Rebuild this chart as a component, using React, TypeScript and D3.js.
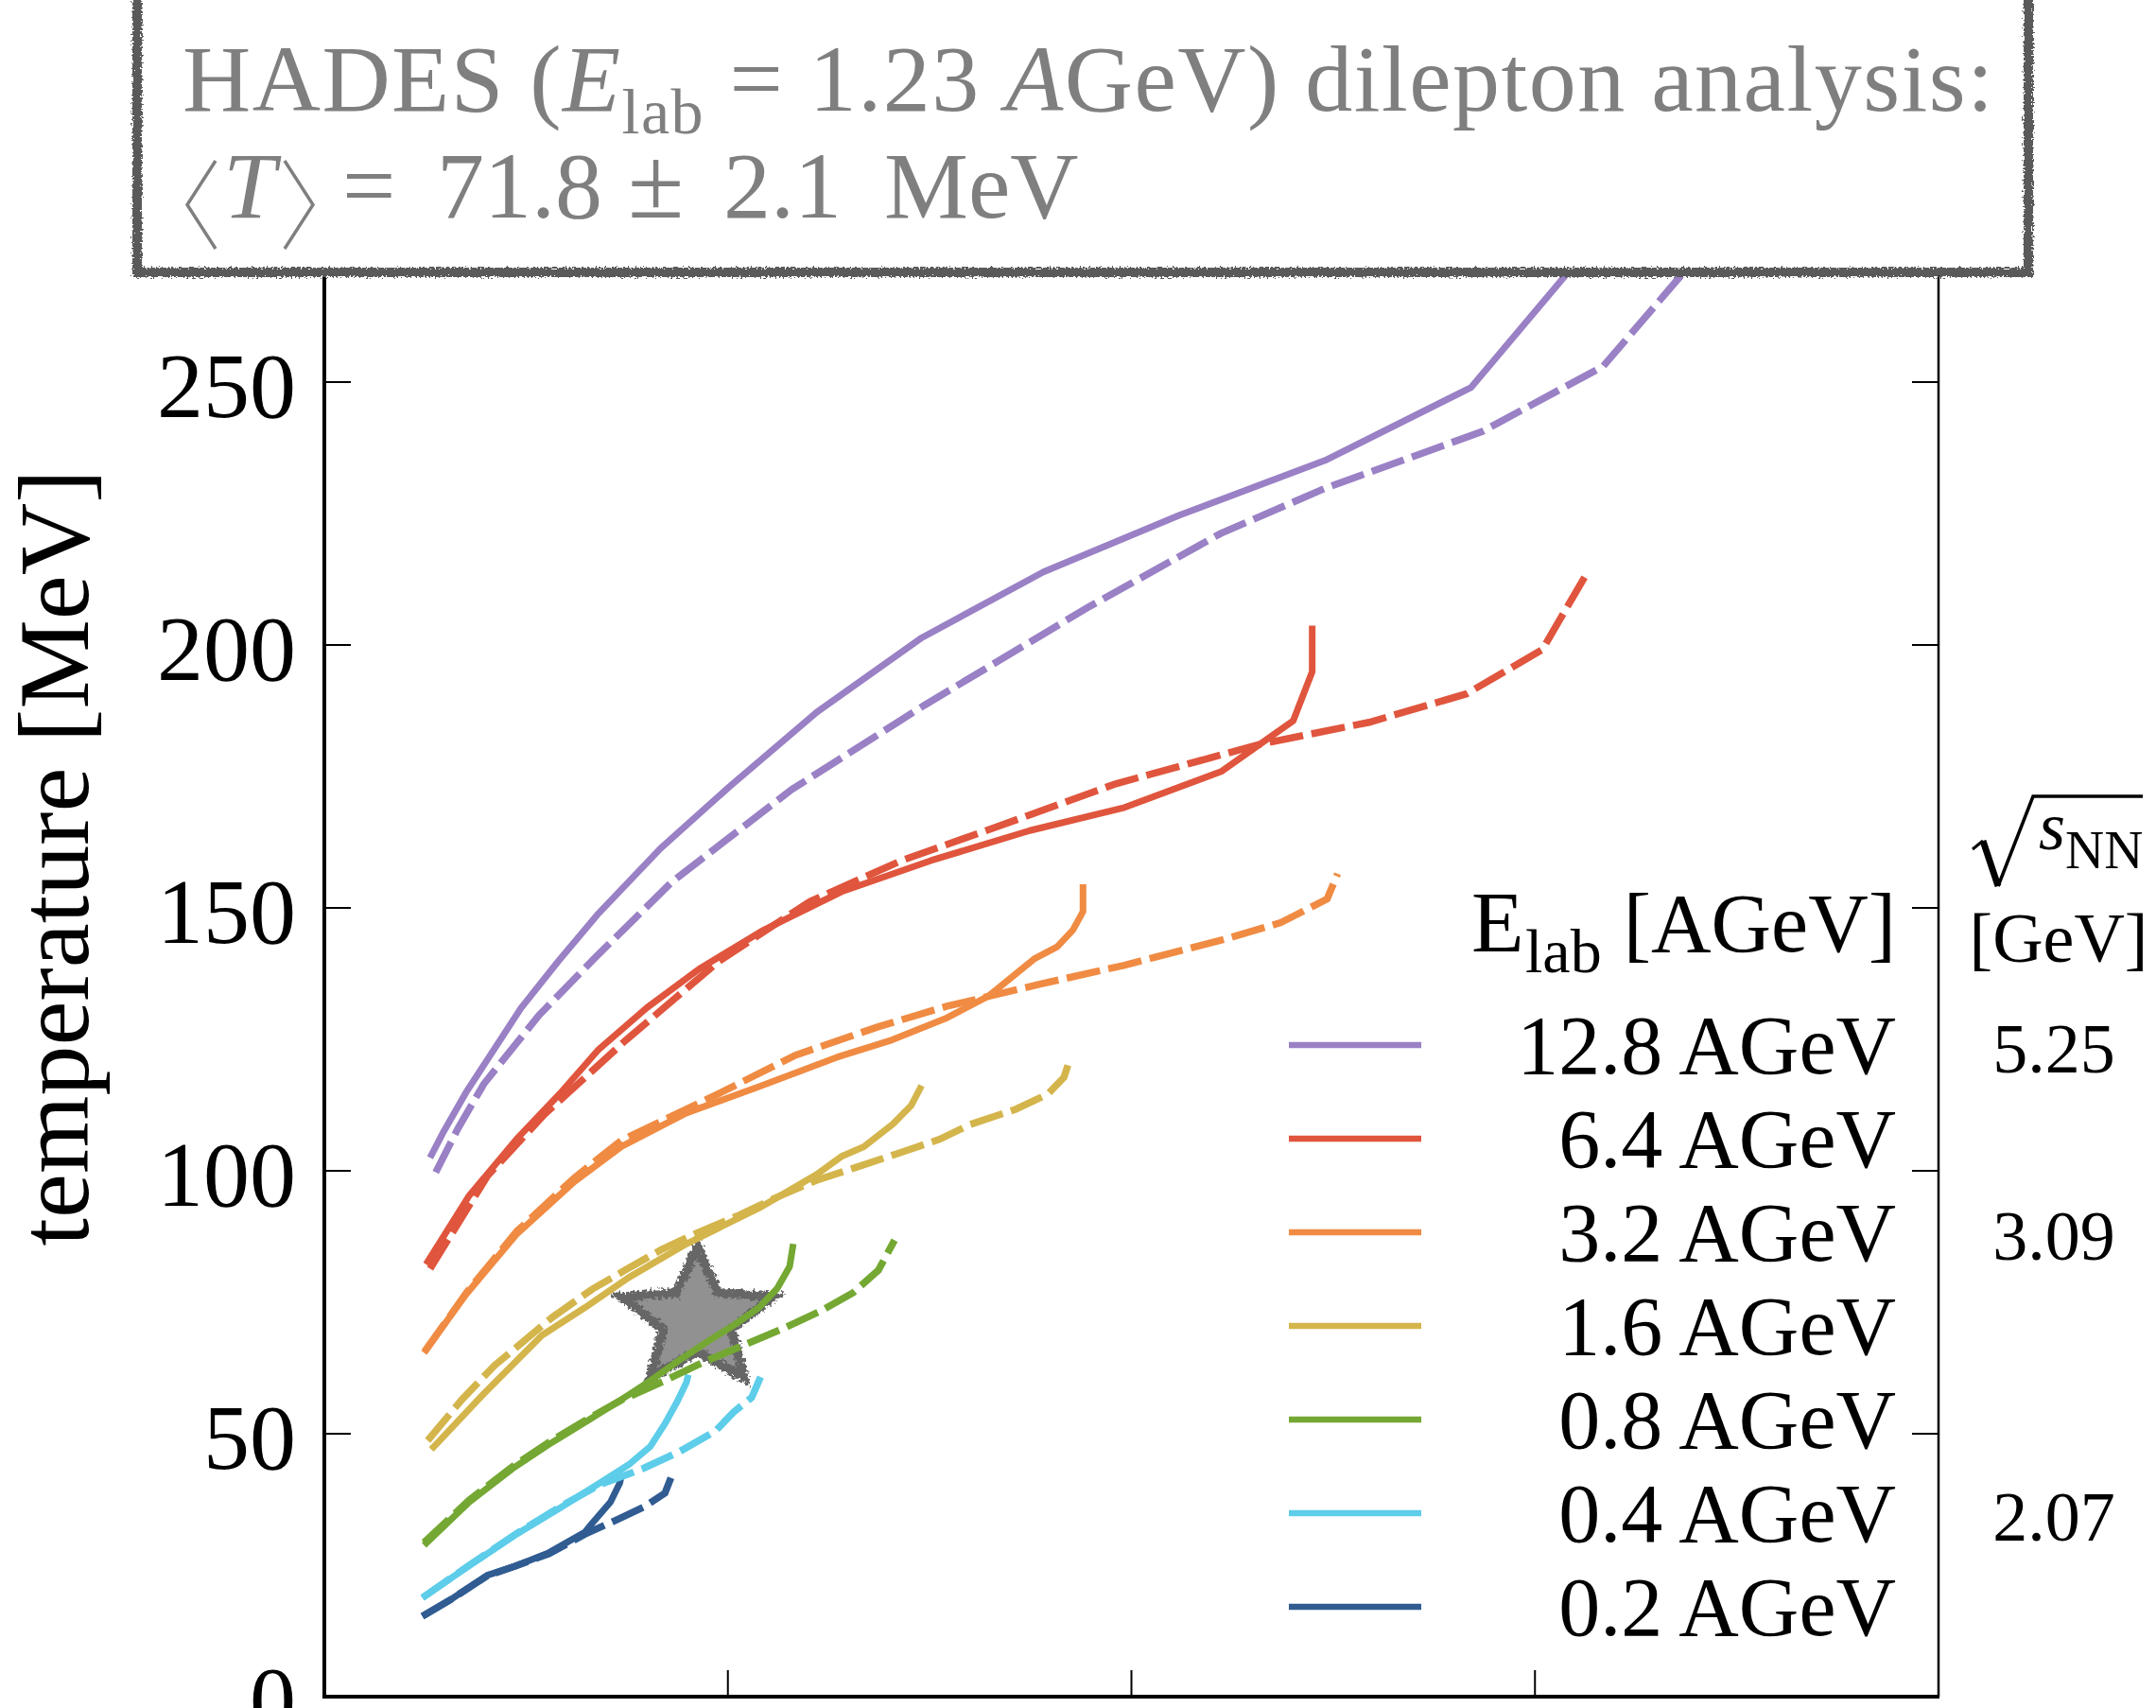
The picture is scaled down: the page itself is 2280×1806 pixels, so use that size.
import React from 'react';
import * as d3 from 'd3';

type P = [number, number];

// ---------- data (x: abscissa units, ticks 0..4 ; y: temperature in MeV) ----------
const xTicks = [1, 2, 3];
const yTicks = [0, 50, 100, 150, 200, 250];

const energyLabels = ['12.8 AGeV', '6.4 AGeV', '3.2 AGeV', '1.6 AGeV', '0.8 AGeV', '0.4 AGeV', '0.2 AGeV'];
const sqrtSNN = ['5.25', '', '3.09', '', '', '2.07', ''];
const colors = ['#9A80C5', '#E0553D', '#F08B43', '#D4B54C', '#74A833', '#5DCDE9', '#305C92'];

const solid128: P[] = [[0.262, 102.5], [0.293, 107.1], [0.351, 114.9], [0.487, 130.9], [0.579, 139.8], [0.680, 149.0], [0.833, 161.3], [1.003, 173.0], [1.220, 187.2], [1.481, 201.4], [1.782, 213.9], [2.119, 224.7], [2.480, 235.1], [2.842, 249.0], [3.077, 270.4], [3.366, 296.9]];
const dashed128: P[] = [[0.276, 99.7], [0.330, 107.9], [0.395, 116.5], [0.532, 129.6], [0.668, 140.3], [0.862, 155.0], [1.158, 172.5], [1.486, 188.5], [1.891, 207.1], [2.221, 221.2], [2.480, 229.8], [2.869, 240.6], [3.169, 253.0], [3.349, 269.1], [3.659, 296.9]];

const solid64: P[] = [[0.252, 82.2], [0.359, 95.3], [0.476, 106.0], [0.584, 114.7], [0.680, 123.1], [0.799, 131.0], [0.929, 138.4], [1.089, 145.8], [1.282, 153.1], [1.503, 159.0], [1.748, 164.7], [1.983, 169.1], [2.224, 176.0], [2.401, 185.6], [2.448, 194.9], [2.448, 203.7]];
const dashed64: P[] = [[0.262, 81.4], [0.404, 99.0], [0.545, 110.7], [0.748, 124.9], [0.975, 139.7], [1.203, 151.2], [1.430, 159.0], [1.713, 166.7], [1.961, 173.6], [2.317, 181.1], [2.589, 185.3], [2.830, 190.7], [3.018, 199.1], [3.123, 212.9]];

const solid32: P[] = [[0.247, 65.4], [0.350, 76.4], [0.476, 87.9], [0.619, 97.9], [0.736, 104.6], [0.897, 111.0], [1.077, 116.0], [1.270, 121.6], [1.407, 124.9], [1.543, 129.1], [1.645, 133.2], [1.759, 140.3], [1.816, 142.6], [1.855, 145.8], [1.880, 149.3], [1.880, 154.5]];
const dashed32: P[] = [[0.249, 65.7], [0.354, 77.0], [0.477, 88.5], [0.620, 98.7], [0.736, 105.8], [0.975, 114.6], [1.168, 122.0], [1.373, 127.4], [1.543, 131.3], [1.773, 135.5], [1.983, 139.1], [2.224, 143.9], [2.370, 147.2], [2.485, 151.7], [2.511, 156.5]];

const solid16: P[] = [[0.265, 47.0], [0.395, 57.6], [0.539, 68.7], [0.646, 74.0], [0.754, 79.7], [0.897, 86.1], [1.077, 92.9], [1.220, 99.3], [1.283, 102.8], [1.337, 104.6], [1.409, 108.9], [1.454, 112.4], [1.480, 116.2]];
const dashed16: P[] = [[0.256, 48.7], [0.341, 56.5], [0.422, 63.0], [0.494, 67.6], [0.566, 72.2], [0.664, 77.5], [0.745, 81.1], [0.835, 85.0], [0.924, 88.2], [1.023, 91.4], [1.122, 95.0], [1.220, 98.2], [1.319, 100.7], [1.417, 103.2], [1.525, 106.0], [1.600, 108.8], [1.713, 111.7], [1.793, 114.6], [1.833, 117.8], [1.844, 120.4]];

const solid08: P[] = [[0.247, 28.8], [0.359, 37.0], [0.467, 43.4], [0.557, 48.0], [0.655, 52.6], [0.736, 56.5], [0.808, 60.1], [0.880, 64.0], [0.951, 67.6], [1.014, 70.6], [1.077, 74.0], [1.122, 77.6], [1.153, 81.8], [1.162, 86.1]];
const dashed08: P[] = [[0.247, 29.3], [0.359, 37.4], [0.467, 43.8], [0.557, 48.4], [0.655, 52.9], [0.736, 56.4], [0.844, 60.1], [0.942, 63.7], [1.041, 66.9], [1.140, 70.1], [1.229, 73.3], [1.310, 76.8], [1.373, 81.1], [1.413, 86.8]];

const solid04: P[] = [[0.243, 18.8], [0.359, 24.9], [0.476, 30.9], [0.584, 35.9], [0.682, 40.6], [0.754, 44.1], [0.808, 47.6], [0.844, 51.9], [0.875, 56.2], [0.897, 59.7], [0.902, 61.2]];
const dashed04: P[] = [[0.243, 18.8], [0.359, 25.0], [0.476, 31.0], [0.584, 36.1], [0.682, 40.3], [0.790, 43.4], [0.880, 46.6], [0.969, 50.5], [1.014, 54.1], [1.059, 56.9], [1.081, 60.8]];

const solid02: P[] = [[0.243, 15.3], [0.314, 18.5], [0.404, 23.1], [0.476, 24.9], [0.557, 27.4], [0.646, 31.3], [0.664, 33.0], [0.709, 37.0], [0.732, 40.6], [0.736, 42.0]];
const dashed02: P[] = [[0.243, 15.3], [0.314, 18.5], [0.404, 23.0], [0.476, 24.9], [0.557, 27.2], [0.646, 30.9], [0.718, 33.4], [0.790, 36.0], [0.844, 38.7], [0.861, 42.0]];

const solidSeries = [solid128, solid64, solid32, solid16, solid08, solid04, solid02];
const dashedSeries = [dashed128, dashed64, dashed32, dashed16, dashed08, dashed04, dashed02];

// HADES point
const hadesX = 0.924;
const hadesT = 71.8;

const FONT = "'Liberation Serif', 'Times New Roman', Times, serif";
const GRAY = '#7f7f7f';

function starPath(cx: number, cy: number, rx: number, ry: number, k: number) {
  const pts: string[] = [];
  for (let i = 0; i < 10; i++) {
    const a = -Math.PI / 2 + (i * Math.PI) / 5;
    const r = i % 2 === 0 ? 1 : k;
    pts.push(`${cx + Math.cos(a) * rx * r},${cy + Math.sin(a) * ry * r}`);
  }
  return 'M' + pts.join('L') + 'Z';
}

export default function App() {
  const W = 2280;
  const H = 1806;
  const left = 343, right = 2050, top = 126, bottom = 1794;
  const x = d3.scaleLinear().domain([0, 4]).range([left, right]);
  const y = d3.scaleLinear().domain([0, 300]).range([bottom, top]);
  const line = d3.line<P>().x((d) => x(d[0])).y((d) => y(d[1]));

  const legendY0 = 1105;
  const legendDy = 99;
  const sx = x(hadesX);
  const sy = y(hadesT);

  return (
    <svg width={W} height={H} viewBox={`0 0 ${W} ${H}`} style={{ position: 'absolute', left: 0, top: 0, background: '#fff' }} fontFamily={FONT}>
      <defs>
        <clipPath id="plotclip">
          <rect x={left} y={top} width={right - left} height={bottom - top} />
        </clipPath>
        <filter id="rough" x="-5%" y="-20%" width="110%" height="140%">
          <feTurbulence type="fractalNoise" baseFrequency="0.5" numOctaves="2" seed="4" result="noise" />
          <feDisplacementMap in="SourceGraphic" in2="noise" scale="8" xChannelSelector="R" yChannelSelector="G" />
        </filter>
        <filter id="roughStar" x="-20%" y="-20%" width="140%" height="140%">
          <feTurbulence type="fractalNoise" baseFrequency="0.3" numOctaves="2" seed="7" result="noise" />
          <feDisplacementMap in="SourceGraphic" in2="noise" scale="10" xChannelSelector="R" yChannelSelector="G" />
        </filter>
      </defs>
      <rect x={0} y={0} width={W} height={H} fill="#fff" />

      {/* HADES star */}
      <g>
        <path d={starPath(sx, sy, 88, 80, 0.45)} fill="#666" stroke="#666" strokeWidth={7} strokeLinejoin="miter" filter="url(#roughStar)" />
        <path d={starPath(sx, sy, 71, 64, 0.45)} fill="#919191" filter="url(#roughStar)" />
      </g>

      {/* curves */}
      <g clipPath="url(#plotclip)" fill="none">
        {solidSeries.map((s, i) => (
          <path key={'s' + i} d={line(s) || ''} stroke={colors[i]} strokeWidth={7} strokeLinejoin="round" />
        ))}
        {dashedSeries.map((s, i) => (
          <path key={'d' + i} d={line(s) || ''} stroke={colors[i]} strokeWidth={7.5} strokeDasharray="36 9" />
        ))}
      </g>

      {/* axes */}
      <g stroke="#000">
        <line x1={left} y1={top} x2={left} y2={bottom + 2} strokeWidth={4} />
        <line x1={left - 2} y1={bottom} x2={right + 1} y2={bottom} strokeWidth={4} />
        <line x1={right} y1={top} x2={right} y2={bottom} strokeWidth={2.5} />
        {yTicks.map((t) => (
          <g key={'yt' + t}>
            <line x1={left} x2={left + 28} y1={y(t)} y2={y(t)} strokeWidth={2} />
            <line x1={right - 28} x2={right} y1={y(t)} y2={y(t)} strokeWidth={2} />
          </g>
        ))}
        {xTicks.map((t) => (
          <line key={'xt' + t} x1={x(t)} x2={x(t)} y1={bottom} y2={bottom - 28} strokeWidth={2} />
        ))}
      </g>
      <g fontSize={98} textAnchor="end" fill="#000">
        {yTicks.map((t) => (
          <text key={'yl' + t} x={left - 30} y={Math.min(y(t) + 37, 1830)}>{t}</text>
        ))}
      </g>
      <text transform={`translate(93,907) rotate(-90)`} textAnchor="middle" fontSize={106} fill="#000">temperature [MeV]</text>

      {/* legend */}
      <g>
        <text x={1556} y={1006} fontSize={91} fill="#000">E</text>
        <text x={1613} y={1028} fontSize={66} fill="#000">lab</text>
        <text x={2005} y={1006} fontSize={88} textAnchor="end" fill="#000">[AGeV]</text>
        {energyLabels.map((lab, i) => {
          const ly = legendY0 + i * legendDy;
          return (
            <g key={'lg' + i}>
              <line x1={1363} x2={1503} y1={ly} y2={ly} stroke={colors[i]} strokeWidth={6.5} />
              <text x={2005} y={ly + 30} fontSize={88} textAnchor="end" fill="#000">{lab}</text>
              {sqrtSNN[i] && (
                <text x={2172} y={ly + 29} fontSize={74} textAnchor="middle" fill="#000">{sqrtSNN[i]}</text>
              )}
            </g>
          );
        })}
        {/* sqrt(s_NN) header */}
        <path d="M2086,898 L2097,889" fill="none" stroke="#000" strokeWidth={3} />
        <path d="M2097,889 L2113,937" fill="none" stroke="#000" strokeWidth={7} />
        <path d="M2113,937 L2150,842 L2266,842" fill="none" stroke="#000" strokeWidth={3.5} />
        <text x={2156} y={898} fontSize={72} fontStyle="italic" fill="#000">s</text>
        <text x={2184} y={918} fontSize={57} fill="#000">NN</text>
        <text x={2177} y={1017} fontSize={74} textAnchor="middle" fill="#000">[GeV]</text>
      </g>

      {/* annotation box */}
      <g>
        <rect x={145} y={-30} width={2000} height={318} fill="#fff" />
        <rect x={145} y={-30} width={2000} height={318} fill="none" stroke="#5a5a5a" strokeWidth={10} filter="url(#rough)" />
        <g fill={GRAY} fontSize={100}>
          <text x={193} y={117} textLength={1915} lengthAdjust="spacing">
            <tspan>{'HADES ('}</tspan>
            <tspan fontStyle="italic">E</tspan>
            <tspan fontSize={68} dy={24}>lab</tspan>
            <tspan dy={-24}>{' = 1.23 '}</tspan>
            <tspan fontStyle="italic">A</tspan>
            <tspan>{'GeV) dilepton analysis:'}</tspan>
          </text>

          <polyline points="228,170 198,216.5 228,263" fill="none" stroke={GRAY} strokeWidth={3.5} />
          <text x={236} y={230} fontStyle="italic">T</text>
          <polyline points="301,170 331,216.5 301,263" fill="none" stroke={GRAY} strokeWidth={3.5} />
          <text x={362} y={230}>=</text>
          <text x={462} y={230}>71.8</text>
          <text x={664} y={230} fontSize={108}>±</text>
          <text x={765} y={230}>2.1</text>
          <text x={935} y={230}>MeV</text>
        </g>
      </g>
    </svg>
  );
}
